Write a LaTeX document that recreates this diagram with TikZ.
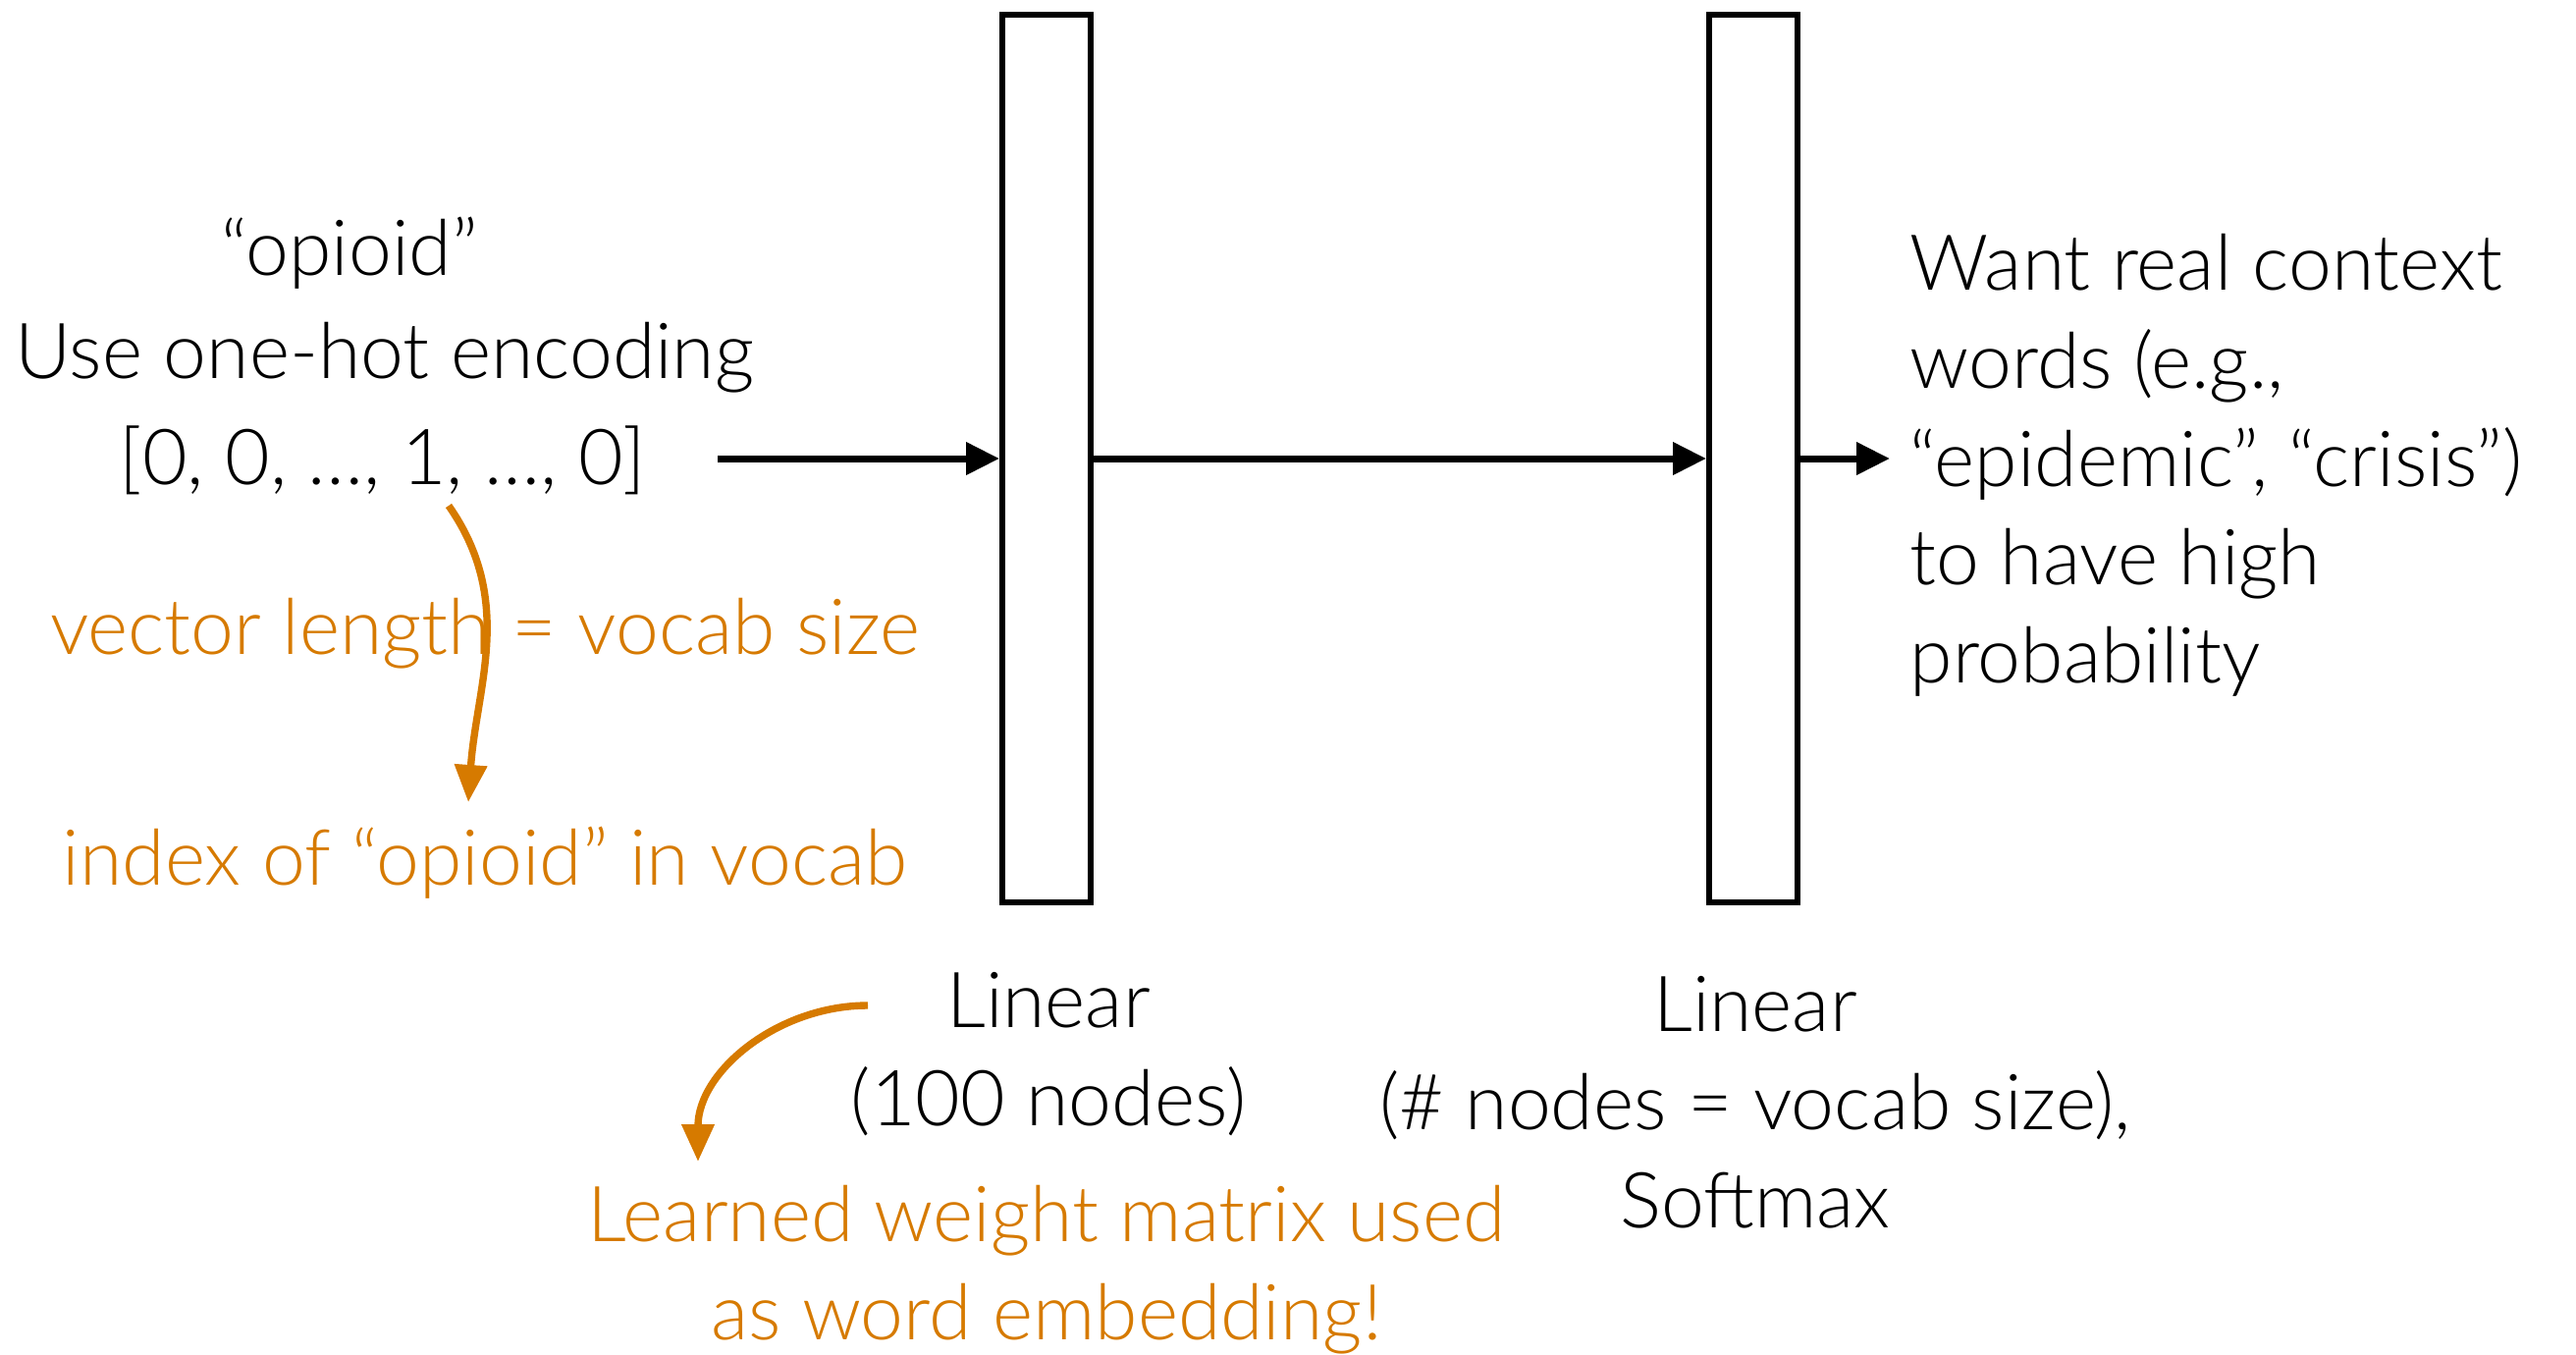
\documentclass[tikz,border=0pt]{standalone}
\usepackage{fontspec}
\IfFontExistsTF{Lato Light}{\setmainfont{Lato Light}}{\setmainfont{Lato}}
\usetikzlibrary{arrows.meta}
\definecolor{gillorange}{RGB}{214,122,0}

\begin{document}
\begin{tikzpicture}[
	layer/.style={draw,line width=1.7pt,minimum width=0.9cm,minimum height=9.04cm,inner sep=0pt},
	flow/.style={line width=2pt,-{Triangle[length=0.34cm,width=0.32cm]}},
	note/.style={line width=2.1pt,gillorange,-{Triangle[length=0.38cm,width=0.32cm]}},
	txt/.style={font=\fontsize{22.4}{28.45}\selectfont,inner sep=0pt,align=center},
]
	\useasboundingbox (0,0) rectangle (26.24,-13.79);
	% layers
	\node[layer] (hid) at (10.66,-4.67) {};
	\node[layer] (outl) at (17.86,-4.67) {};
	
	% input side
	\node[txt] (word) at (3.56,-2.58) {“opioid”};
	\node[txt] (enc) at (3.92,-3.64) {Use one-hot encoding};
	\node[txt] (vec) at (3.90,-4.69) {[0, 0, …, 1, …, 0]};
	\node[txt,gillorange] (len) at (4.94,-6.45) {vector length = vocab size};
	\node[txt,gillorange] (idx) at (4.94,-8.79) {index of “opioid” in vocab};
	\coordinate (in) at (7.31,-4.67);
	\coordinate (one) at (4.57,-5.15);
	\coordinate (idxtop) at (4.77,-8.17);
	
	% output side
	\node[txt,align=left,anchor=west,inner xsep=0.2cm] (want) at (19.25,-4.74) {Want real context\\words (e.g.,\\“epidemic”, “crisis”)\\to have high\\probability};
	
	% labels under the layers
	\node[txt] (lin1) at (10.68,-10.74) {Linear\\(100 nodes)};
	\node[txt] (lin2) at (17.88,-11.23) {Linear\\(\# nodes = vocab size),\\Softmax};
	\node[txt,gillorange] (emb) at (10.66,-12.93) {Learned weight matrix used\\as word embedding!};
	\coordinate (embfrom) at (8.84,-10.24);
	\coordinate (embto) at (7.11,-11.83);
	
	\draw[flow] (in) -- (hid.west);
	\draw[flow] (hid.east) -- (outl.west);
	\draw[flow] (outl.east) -- (outl.east -| want.west);
	
	\draw[note] (one) to[out=-55,in=86] (idxtop);
	\draw[note] (embfrom) to[out=180,in=90] (embto);
\end{tikzpicture}
\end{document}
